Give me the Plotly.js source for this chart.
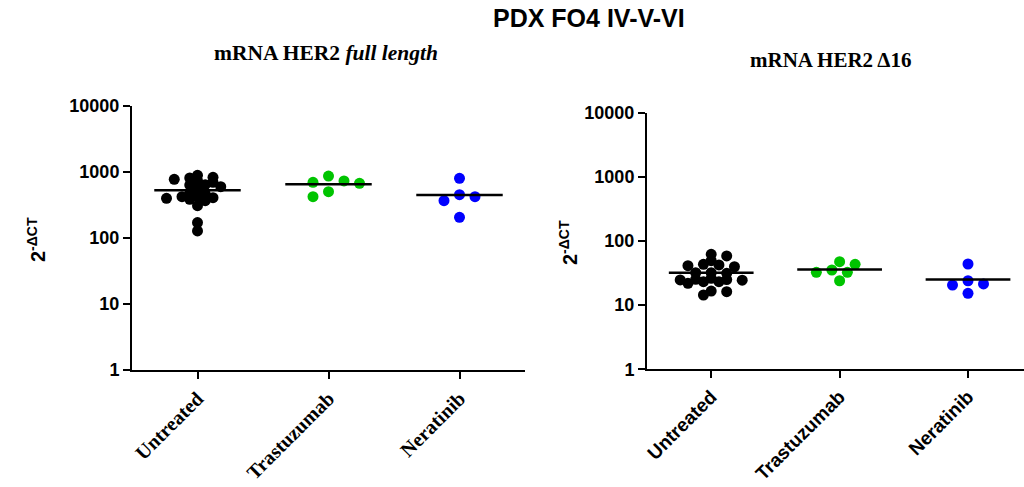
<!DOCTYPE html>
<html>
<head>
<meta charset="utf-8">
<script src="https://cdn.plot.ly/plotly-3.0.1.min.js"></script>
<style>
  html, body { margin: 0; padding: 0; background: #ffffff; }
  #chart { width: 1024px; height: 487px; }
</style>
</head>
<body>
<div id="chart"></div>
<script>
// Treatment groups and their dot colours
const groups = ['Untreated', 'Trastuzumab', 'Neratinib'];
const groupColors = ['#000000', '#00c400', '#0000ff'];

// mRNA HER2 full length, 2^-ΔCT per tumour
const fullUntreated = [891, 832, 811, 775, 739, 698, 642, 635, 599, 547, 476,
                       464, 423, 423, 408, 399, 385, 368, 309, 171, 128];
const fullTrastuzumab = [869, 731, 698, 674, 503, 422];
const fullNeratinib = [803, 453, 422, 367, 206];

// mRNA HER2 Δ16, 2^-ΔCT per tumour
const d16Untreated = [62, 58.4, 49.3, 43.3, 42.3, 41.2, 39.7, 32.1, 32.1, 31.4,
                      26.2, 25.3, 25.0, 24.7, 24.5, 23.2, 23.2, 21.9, 16.6, 16.2, 14.4];
const d16Trastuzumab = [47.6, 43.3, 35.3, 32.5, 32.5, 24.0];
const d16Neratinib = [43.8, 24.0, 21.4, 20.6, 15.3];

// y axis ticks
const yTickVals = [1, 10, 100, 1000, 10000];
const yTickText = ['1', '10', '100', '1000', '10000'];

const W = 1024, H = 487;
const panels = [
  { sets: [fullUntreated, fullTrastuzumab, fullNeratinib],
    xdom: [132 / W, 525 / W], xrange: [-0.5, 2.5],
    ydom: [(H - 370) / H, (H - 106) / H], xa: 'x', ya: 'y' },
  { sets: [d16Untreated, d16Trastuzumab, d16Neratinib],
    xdom: [647 / W, 1], xrange: [-0.5, 2.436],
    ydom: [(H - 369.3) / H, (H - 112.7) / H], xa: 'x2', ya: 'y2' }
];

const dotSize = 11;
const mean = a => a.reduce((s, v) => s + v, 0) / a.length;

// Column scatter: dots on a half-step lattice, pushed sideways until they
// no longer collide; crowded columns accept more overlap to stay narrow.
function swarmAt(values, pxPerDecade, scale) {
  const step = 7.75, clearX = 15.5 * scale, clearY = 9 * scale;
  const order = values.map((v, i) => i).sort((a, b) => values[b] - values[a]);
  const placed = [];
  const px = new Array(values.length).fill(0);
  const free = (x, y) => placed.every(p =>
    ((p.x - x) / clearX) ** 2 + ((p.y - y) / clearY) ** 2 >= 0.999);
  order.forEach(i => {
    const y = Math.log10(values[i]) * pxPerDecade;
    const bias = placed.reduce((s, p) => s + p.x, 0);
    for (let m = 0; m < 20; m++) {
      const sides = m === 0 ? [0] : (bias > 0 ? [-m, m] : [m, -m]);
      const hit = sides.find(s => free(s * step, y));
      if (hit !== undefined) {
        placed.push({ x: hit * step, y: y });
        px[i] = hit * step;
        break;
      }
    }
  });
  return px;
}
function swarm(values, pxPerX, pxPerDecade) {
  const maxHalf = 33;
  let px = [];
  for (let scale = 1; scale >= 0.5; scale -= 0.05) {
    px = swarmAt(values, pxPerDecade, scale);
    if (Math.max(...px.map(Math.abs)) <= maxHalf) break;
  }
  return px.map(v => v / pxPerX);
}

const traces = [];
panels.forEach(p => {
  const pxPerX = (p.xdom[1] - p.xdom[0]) * W / (p.xrange[1] - p.xrange[0]);
  const pxPerDecade = (p.ydom[1] - p.ydom[0]) * H / 4;
  p.sets.forEach((vals, gi) => {
    const off = swarm(vals, pxPerX, pxPerDecade);
    traces.push({
      type: 'scatter', mode: 'markers', xaxis: p.xa, yaxis: p.ya,
      x: vals.map((v, i) => gi + off[i]), y: vals,
      marker: { color: groupColors[gi], size: dotSize, line: { width: 0 } },
      hoverinfo: 'y', showlegend: false
    });
  });
  p.sets.forEach((vals, gi) => {
    const m = mean(vals);
    traces.push({
      type: 'scatter', mode: 'lines', xaxis: p.xa, yaxis: p.ya,
      x: [gi - 0.33, gi + 0.33], y: [m, m],
      line: { color: '#000000', width: 2.5 },
      hoverinfo: 'skip', showlegend: false
    });
  });
});

const axisCommon = {
  showline: true, linecolor: '#000000', linewidth: 2,
  ticks: 'outside', ticklen: 7, tickwidth: 2, tickcolor: '#000000',
  showgrid: false, zeroline: false, fixedrange: true
};
const yAxis = (dom, anchor) => Object.assign({}, axisCommon, {
  type: 'log', range: [0, 4], domain: dom, anchor: anchor,
  tickvals: yTickVals, ticktext: yTickText,
  tickfont: { family: 'Liberation Sans, Arial, sans-serif', size: 18, color: '#000000', weight: 'bold' }
});
const xAxis = (dom, rng, anchor, font) => Object.assign({}, axisCommon, {
  domain: dom, range: rng, anchor: anchor,
  tickvals: [0, 1, 2], ticktext: groups, tickangle: -45,
  tickfont: font
});

const serif = 'Liberation Serif, Times New Roman, serif';
const sans = 'Liberation Sans, Arial, sans-serif';

const ann = (text, x, y, size, family, angle) => ({
  text: text, xref: 'paper', yref: 'paper', x: x / W, y: 1 - y / H,
  xanchor: 'center', yanchor: 'middle', showarrow: false, textangle: angle || 0,
  font: { family: family, size: size, color: '#000000' }
});

const layout = {
  width: W, height: H,
  margin: { l: 0, r: 0, t: 0, b: 0 },
  paper_bgcolor: '#ffffff', plot_bgcolor: '#ffffff',
  showlegend: false,
  xaxis: xAxis(panels[0].xdom, panels[0].xrange, 'y',
    { family: serif, size: 20, color: '#000000', weight: 'bold' }),
  yaxis: yAxis(panels[0].ydom, 'x'),
  xaxis2: xAxis(panels[1].xdom, panels[1].xrange, 'y2',
    { family: sans, size: 19, color: '#000000', weight: 'bold' }),
  yaxis2: yAxis(panels[1].ydom, 'x2'),
  annotations: [
    ann('<b>PDX FO4 IV-V-VI</b>', 589, 18, 25, sans),
    ann('<b>mRNA HER2 <i>full length</i></b>', 326, 53, 21.5, serif),
    ann('<b>mRNA HER2\u2009Δ16</b>', 830, 60, 21, serif),
    ann('<b>2<sup>-ΔCT</sup></b>', 36, 240, 20, sans, -90),
    ann('<b>2<sup>-ΔCT</sup></b>', 568, 243, 20, sans, -90)
  ]
};

Plotly.newPlot('chart', traces, layout, { displayModeBar: false, staticPlot: true });
</script>
</body>
</html>
